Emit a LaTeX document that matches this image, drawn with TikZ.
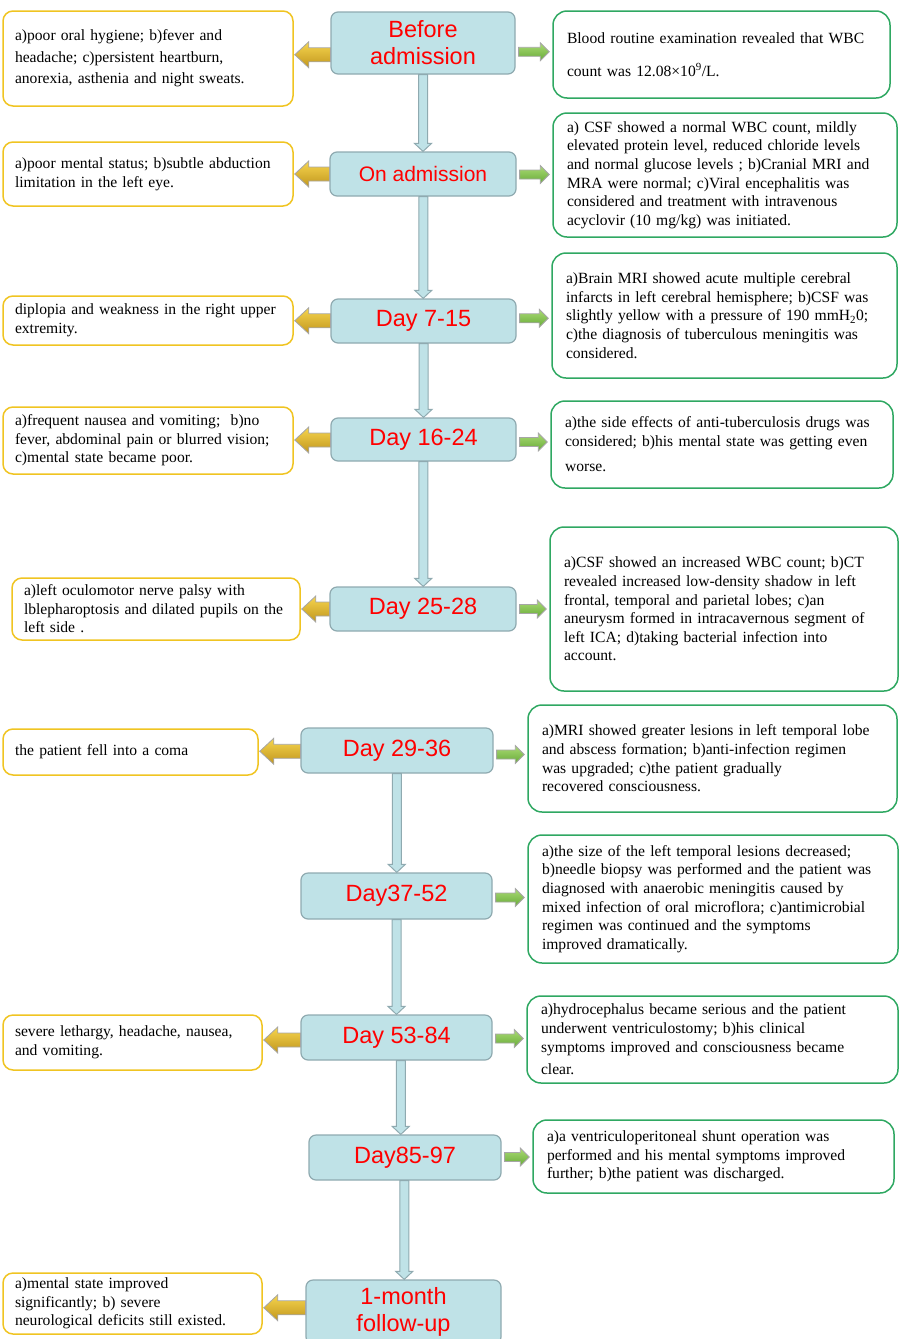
\documentclass[tikz,border=0pt]{standalone}
\usepackage{fontspec}
\setmainfont{Liberation Serif}
\newfontfamily\headfont{Liberation Sans}
\usetikzlibrary{calc}
\definecolor{stagefill}{HTML}{BFE2E7}
\definecolor{stageline}{HTML}{8FAAB0}
\definecolor{signline}{HTML}{F0C422}
\definecolor{findline}{HTML}{2FA862}
\definecolor{goldtop}{HTML}{F6D54E}
\definecolor{goldbot}{HTML}{C1961E}
\definecolor{greentop}{HTML}{ABDB74}
\definecolor{greenbot}{HTML}{66AA38}

\begin{document}
\begin{tikzpicture}[x=1pt,y=-1pt,
	stage/.style={draw=stageline, fill=stagefill, line width=1.2pt, rounded corners=7pt, align=center, text=red, inner sep=0pt, font=\headfont\fontsize{23.5}{27}\selectfont},
	sign/.style={draw=signline, line width=1.5pt, rounded corners=10pt, align=left, inner xsep=12pt, font=\fontsize{15.6}{18.6}\selectfont},
	find/.style={draw=findline, line width=1.5pt, rounded corners=14pt, align=left, inner xsep=14pt, font=\fontsize{15.6}{18.6}\selectfont},
	down/.style={draw=stageline, fill=stagefill, line width=1pt},
	signarrow/.style={draw=gray!70, line width=.8pt, top color=goldtop, bottom color=goldbot},
	findarrow/.style={draw=gray!70, line width=.8pt, top color=greentop, bottom color=greenbot}]
		\useasboundingbox (0,0) rectangle (901,1339);
		\node[stage, minimum width=184pt, minimum height=62pt] (c1) at (423,43) {Before\\admission};
		\node[stage, minimum width=186pt, minimum height=44pt, font=\headfont\fontsize{21}{25}\selectfont] (c2) at (423,174) {On admission};
		\node[stage, minimum width=185pt, minimum height=44pt] (c3) at (423.5,321) {Day 7-15};
		\node[stage, minimum width=185pt, minimum height=43pt] (c4) at (423.5,439.5) {Day 16-24};
		\node[stage, minimum width=186pt, minimum height=44pt] (c5) at (423,609) {Day 25-28};
		\node[stage, minimum width=192pt, minimum height=45pt] (c6) at (397,750.5) {Day 29-36};
		\node[stage, minimum width=191pt, minimum height=46pt] (c7) at (396.5,896) {Day37-52};
		\node[stage, minimum width=191pt, minimum height=45pt] (c8) at (396.5,1037.5) {Day 53-84};
		\node[stage, minimum width=192pt, minimum height=45pt] (c9) at (405,1157.5) {Day85-97};
		\node[stage, minimum width=195pt, minimum height=64pt] (c10) at (403.5,1312) {1-month\\follow-up};

		\node[sign, text width=266pt, minimum height=95pt] (l1) at (148,58.5) {a)poor oral hygiene; b)fever and\\[3pt] headache; c)persistent heartburn,\\[3pt] anorexia, asthenia and night sweats.};
		\node[sign, text width=266pt, minimum height=64pt] (l2) at (148,174) {a)poor mental status; b)subtle abduction\\ limitation in the left eye.};
		\node[sign, text width=266pt, minimum height=49pt] (l3) at (148,320.5) {diplopia and weakness in the right upper\\ extremity.};
		\node[sign, text width=266pt, minimum height=67pt] (l4) at (148,440.5) {a)frequent nausea and vomiting;\ \ b)no\\ fever, abdominal pain or blurred vision;\\ c)mental state became poor.};
		\node[sign, text width=264pt, minimum height=62pt] (l5) at (156,609) {a)left oculomotor nerve palsy with\\ lblepharoptosis and dilated pupils on the\\ left side .};
		\node[sign, text width=231pt, minimum height=46pt] (l6) at (130.5,752) {the patient fell into a coma};
		\node[sign, text width=235pt, minimum height=55pt] (l8) at (132.5,1042.5) {severe lethargy, headache, nausea,\\ and vomiting.};
		\node[sign, text width=235pt, minimum height=61pt] (l10) at (132.5,1303.5) {a)mental state improved\\ significantly; b) severe\\ neurological deficits still existed.};

		\node[find, text width=309pt, minimum height=87pt] (r1) at (721.5,54.5) {Blood routine examination revealed that WBC\\[14pt] count was 12.08×10\textsuperscript{9}/L.};
		\node[find, text width=316pt, minimum height=124pt] (r2) at (725,175) {a) CSF showed a normal WBC count, mildly\\ elevated protein level, reduced chloride levels\\ and normal glucose levels ; b)Cranial MRI and\\ MRA were normal; c)Viral encephalitis was\\ considered and treatment with intravenous\\ acyclovir (10 mg/kg) was initiated.};
		\node[find, text width=317pt, minimum height=125pt] (r3) at (724.5,315.5) {a)Brain MRI showed acute multiple cerebral\\ infarcts in left cerebral hemisphere; b)CSF was\\ slightly yellow with a pressure of 190 mmH\textsubscript{2}0;\\ c)the diagnosis of tuberculous meningitis was\\ considered.};
		\node[find, text width=314pt, minimum height=87pt] (r4) at (722,444.5) {a)the side effects of anti-tuberculosis drugs was\\ considered; b)his mental state was getting even\\[7pt] worse.};
		\node[find, text width=320pt, minimum height=164pt] (r5) at (724,609) {a)CSF showed an increased WBC count; b)CT\\ revealed increased low-density shadow in left\\ frontal, temporal and parietal lobes; c)an\\ aneurysm formed in intracavernous segment of\\ left ICA; d)taking bacterial infection into\\ account.};
		\node[find, text width=341pt, minimum height=107pt] (r6) at (712.5,758.5) {a)MRI showed greater lesions in left temporal lobe\\ and abscess formation; b)anti-infection regimen\\ was upgraded; c)the patient gradually\\ recovered consciousness.};
		\node[find, text width=342pt, minimum height=128pt] (r7) at (713,899) {a)the size of the left temporal lesions decreased;\\ b)needle biopsy was performed and the patient was\\ diagnosed with anaerobic meningitis caused by\\ mixed infection of oral microflora; c)antimicrobial\\ regimen was continued and the symptoms\\ improved dramatically.};
		\node[find, text width=343pt, minimum height=87pt] (r8) at (712.5,1039.5) {a)hydrocephalus became serious and the patient\\ underwent ventriculostomy; b)his clinical\\ symptoms improved and consciousness became\\[4pt] clear.};
		\node[find, text width=333pt, minimum height=73pt] (r9) at (713.5,1156.5) {a)a ventriculoperitoneal shunt operation was\\ performed and his mental symptoms improved\\ further; b)the patient was discharged.};

		\foreach \a/\b in {c1/c2,c2/c3,c3/c4,c4/c5,c6/c7,c7/c8,c8/c9,c9/c10}
			\draw[down] let \p1=(\a.south), \p2=(\b.north), \p3=($(\p1)!.5!(\p2)$) in
				(\x3-4.5pt,\y1) -- (\x3-4.5pt,\y2+8pt) -- (\x3-8.5pt,\y2+8pt) -- (\x3,\y2)
				-- (\x3+8.5pt,\y2+8pt) -- (\x3+4.5pt,\y2+8pt) -- (\x3+4.5pt,\y1) -- cycle;
		\foreach \a/\b/\s in {c1/l1/4pt,c2/l2/0pt,c3/l3/0pt,c4/l4/0pt,c5/l5/0pt,c6/l6/0pt,c8/l8/0pt,c10/l10/0pt}
			\draw[signarrow] let \p1=(\a.west), \p2=(\b.east), \p3=($(\p1)!.5!(\p2)$) in
				(\x1,\y3-\s+7pt) -- (\x2+15pt,\y3-\s+7pt) -- (\x2+15pt,\y3-\s+13pt) -- (\x2+1pt,\y3-\s)
				-- (\x2+15pt,\y3-\s-13pt) -- (\x2+15pt,\y3-\s-7pt) -- (\x1,\y3-\s-7pt) -- cycle;
		\foreach \a/\b/\s in {c1/r1/3pt,c2/r2/0pt,c3/r3/0pt,c4/r4/0pt,c5/r5/0pt,c6/r6/0pt,c7/r7/0pt,c8/r8/0pt,c9/r9/0pt}
			\draw[findarrow] let \p1=(\a.east), \p2=(\b.west), \p3=($(\p1)!.5!(\p2)$) in
				(\x1+3pt,\y3-\s+4.5pt) -- (\x2-12pt,\y3-\s+4.5pt) -- (\x2-12pt,\y3-\s+9pt) -- (\x2-3pt,\y3-\s)
				-- (\x2-12pt,\y3-\s-9pt) -- (\x2-12pt,\y3-\s-4.5pt) -- (\x1+3pt,\y3-\s-4.5pt) -- cycle;
	\end{tikzpicture}
\end{document}
